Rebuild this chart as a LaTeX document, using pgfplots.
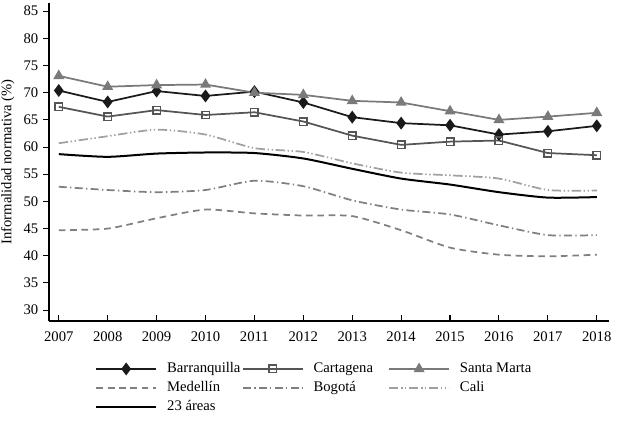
\documentclass[border=0pt]{standalone}
\usepackage{fontspec}
\setmainfont{Liberation Serif}
\usepackage{pgfplots}
\pgfplotsset{compat=1.18}
\definecolor{cBaq}{HTML}{1A1A1A}
\definecolor{cCtg}{HTML}{555555}
\definecolor{cSm}{HTML}{7A7A7A}
\definecolor{cMed}{HTML}{808080}
\definecolor{cBog}{HTML}{7F7F7F}
\definecolor{cCali}{HTML}{A0A0A0}
\newcommand{\lent}[1]{\hspace*{7.5pt}\makebox[56pt][l]{#1}}
\begin{document}
\begin{tikzpicture}
\begin{axis}[
  name=ax,
  scale only axis, width=420pt, height=238.5pt,
  xmin=2006.8, xmax=2018.25, ymin=28, ymax=86.5,
  axis lines*=left,
  axis line style={line width=0.8pt},
  xtick={2007,...,2018}, ytick={30,35,...,85},
  tick style={black, line width=0.8pt},
  major tick length=4.5pt,
  tick align=outside,
  x tick style={yshift=4.5pt},
  /pgf/number format/assume math mode=true,
  /pgf/number format/1000 sep={},
  tick label style={font=\fontsize{11}{13}\selectfont},
  ylabel={Informalidad normativa (\%)},
  ylabel style={font=\fontsize{11}{13}\selectfont},
  legend columns=3,
  legend cell align=left,
  legend style={draw=none, fill=none, inner sep=0pt, at={(0.082,-0.12)}, anchor=north west,
    font=\fontsize{11}{13}\selectfont,
    nodes={inner xsep=0pt, inner ysep=2.25pt, text height=7.5pt, text depth=2.25pt, anchor=west},
    row sep=0pt, column sep=0pt},
  legend image code/.code={
    \draw[mark repeat=2,mark phase=2,#1] plot coordinates {(0pt,0pt) (22.5pt,0pt) (45pt,0pt)};},
]
% Barranquilla
\addplot[cBaq, line width=1.3pt, mark=diamond*, mark size=3.8pt, mark options={solid, fill=cBaq}] coordinates {
(2007,70.4) (2008,68.3) (2009,70.3) (2010,69.4) (2011,70.2) (2012,68.2)
(2013,65.5) (2014,64.4) (2015,64.0) (2016,62.3) (2017,62.9) (2018,63.9)};
\addlegendentry{\lent{Barranquilla}}
% Cartagena
\addplot[cCtg, line width=1.3pt, mark=square, mark size=2.8pt, mark options={solid, fill=white, line width=1.1pt}] coordinates {
(2007,67.4) (2008,65.6) (2009,66.8) (2010,65.9) (2011,66.4) (2012,64.7)
(2013,62.1) (2014,60.4) (2015,61.0) (2016,61.2) (2017,58.9) (2018,58.5)};
\addlegendentry{\lent{Cartagena}}
% Santa Marta
\addplot[cSm, line width=1.3pt, mark=triangle*, mark size=3.5pt, mark options={solid, fill=cSm}] coordinates {
(2007,73.1) (2008,71.1) (2009,71.4) (2010,71.5) (2011,70.0) (2012,69.6)
(2013,68.5) (2014,68.2) (2015,66.6) (2016,65.0) (2017,65.6) (2018,66.3)};
\addlegendentry{\lent{Santa Marta}}
% Medellin
\addplot[cMed, line width=1.3pt, smooth, tension=0.4, dash pattern=on 5pt off 3.5pt] coordinates {
(2007,44.7) (2008,45.0) (2009,46.9) (2010,48.5) (2011,47.8) (2012,47.4)
(2013,47.3) (2014,44.7) (2015,41.5) (2016,40.2) (2017,39.9) (2018,40.2)};
\addlegendentry{\lent{Medellín}}
% Bogota
\addplot[cBog, line width=1.3pt, smooth, tension=0.4, dash pattern=on 6pt off 2.5pt on 1pt off 2.5pt] coordinates {
(2007,52.7) (2008,52.1) (2009,51.7) (2010,52.1) (2011,53.8) (2012,52.8)
(2013,50.2) (2014,48.5) (2015,47.6) (2016,45.6) (2017,43.8) (2018,43.8)};
\addlegendentry{\lent{Bogotá}}
% Cali
\addplot[cCali, line width=1.3pt, smooth, tension=0.4, dash pattern=on 7pt off 2pt on 1pt off 2pt on 1pt off 2pt] coordinates {
(2007,60.7) (2008,62.0) (2009,63.2) (2010,62.3) (2011,59.8) (2012,59.1)
(2013,57.0) (2014,55.3) (2015,54.8) (2016,54.2) (2017,52.1) (2018,52.0)};
\addlegendentry{\lent{Cali}}
% 23 areas
\addplot[black, line width=1.5pt, smooth, tension=0.4] coordinates {
(2007,58.7) (2008,58.2) (2009,58.8) (2010,59.0) (2011,58.9) (2012,57.9)
(2013,56.0) (2014,54.2) (2015,53.1) (2016,51.7) (2017,50.7) (2018,50.8)};
\addlegendentry{\lent{23 áreas}}
\end{axis}
\pgfresetboundingbox
\path[use as bounding box] ([shift={(-36.75pt,-76.5pt)}]ax.south west) rectangle ([shift={(8.25pt,2.25pt)}]ax.north east);
\end{tikzpicture}
\end{document}
